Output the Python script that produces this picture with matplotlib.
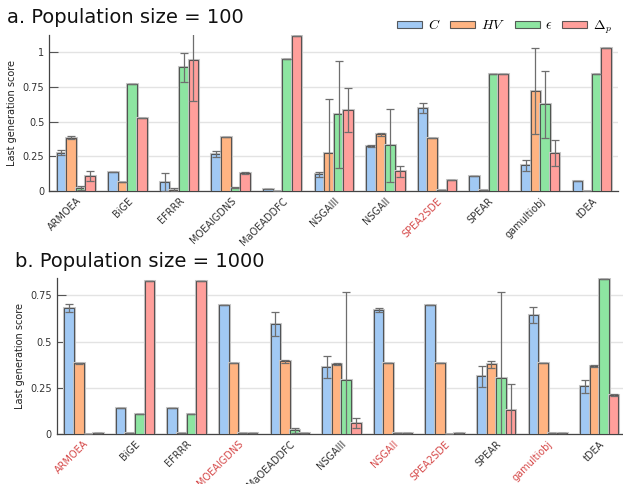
import matplotlib
matplotlib.use("Agg")
import matplotlib.pyplot as plt
import matplotlib.patheffects as pe
from matplotlib.patches import Patch
import numpy as np

plt.rcParams["mathtext.fontset"] = "cm"
plt.rcParams["font.family"] = ["DejaVu Sans"]

algorithms = ["ARMOEA", "BiGE", "EFRRR", "MOEAIGDNS", "MaOEADDFC", "NSGAIII",
              "NSGAII", "SPEA2SDE", "SPEAR", "gamultiobj", "tDEA"]
metrics = [r"$C$", r"$HV$", r"$\epsilon$", r"$\Delta_p$"]
colors = ["#a1c9f4", "#ffb482", "#8de5a1", "#ff9f9b"]

# Population size = 100: mean score and error half-width per metric
c_100 = [0.276, 0.139, 0.063, 0.269, 0.014, 0.120, 0.322, 0.596, 0.106, 0.185, 0.070]
c_100_err = [0.020, 0.0, 0.065, 0.022, 0.0, 0.020, 0.008, 0.035, 0.0, 0.040, 0.0]
hv_100 = [0.385, 0.067, 0.010, 0.389, 0.0, 0.274, 0.409, 0.382, 0.010, 0.723, 0.003]
hv_100_err = [0.012, 0.0, 0.010, 0.003, 0.0, 0.386, 0.010, 0.0, 0.0, 0.310, 0.0]
eps_100 = [0.024, 0.771, 0.892, 0.024, 0.952, 0.553, 0.329, 0.005, 0.841, 0.625, 0.841]
eps_100_err = [0.015, 0.0, 0.105, 0.005, 0.0, 0.385, 0.262, 0.0, 0.0, 0.240, 0.0]
dp_100 = [0.108, 0.524, 0.947, 0.132, 1.120, 0.582, 0.142, 0.077, 0.841, 0.274, 1.033]
dp_100_err = [0.035, 0.0, 0.295, 0.006, 0.0, 0.160, 0.040, 0.0, 0.0, 0.097, 0.0]

# Population size = 1000
c_1000 = [0.680, 0.139, 0.139, 0.698, 0.593, 0.361, 0.672, 0.699, 0.312, 0.645, 0.258]
c_1000_err = [0.022, 0.0, 0.0, 0.0, 0.065, 0.060, 0.011, 0.0, 0.058, 0.042, 0.036]
hv_1000 = [0.382, 0.007, 0.007, 0.382, 0.393, 0.379, 0.382, 0.382, 0.377, 0.382, 0.368]
hv_1000_err = [0.002, 0.0, 0.0, 0.0, 0.010, 0.005, 0.0, 0.0, 0.018, 0.0, 0.003]
eps_1000 = [0.0, 0.106, 0.106, 0.004, 0.020, 0.290, 0.004, 0.0, 0.303, 0.007, 0.840]
eps_1000_err = [0.0, 0.0, 0.0, 0.0, 0.015, 0.476, 0.0, 0.0, 0.465, 0.0, 0.0]
dp_1000 = [0.007, 0.829, 0.829, 0.007, 0.005, 0.061, 0.007, 0.007, 0.130, 0.007, 0.211]
dp_1000_err = [0.0, 0.0, 0.0, 0.0, 0.0, 0.026, 0.0, 0.0, 0.139, 0.0, 0.003]

highlight_100 = ["SPEA2SDE"]
highlight_1000 = ["ARMOEA", "MOEAIGDNS", "NSGAII", "SPEA2SDE", "gamultiobj"]

yticks_100 = [0, 0.25, 0.5, 0.75, 1]
yticks_1000 = [0, 0.25, 0.5, 0.75]
ytick_labels_100 = ["0", "0.25", "0.5", "0.75", "1"]
ytick_labels_1000 = ["0", "0.25", "0.5", "0.75"]

fig = plt.figure(figsize=(6.23, 4.84), dpi=100)
ax_a = fig.add_axes([0.0791, 0.6054, 0.913, 0.3223])
ax_b = fig.add_axes([0.0910, 0.1033, 0.909, 0.3223])

width = 0.186
x = np.arange(len(algorithms))
halo = [pe.Stroke(linewidth=2.2, foreground="#c8c8c8"), pe.Normal()]


def draw_panel(ax, series, errors, ymax, yticks, ylabels, highlight):
    for i, (vals, errs) in enumerate(zip(series, errors)):
        pos = x + (i - 1.5) * width
        bars = ax.bar(pos, vals, width=width, color=colors[i],
                      edgecolor=(0.25, 0.25, 0.25, 0.85), linewidth=0.8,
                      zorder=3, label=metrics[i])
        for b in bars:
            b.set_path_effects(halo)
        _, caps, lines = ax.errorbar(pos, vals, yerr=errs, fmt="none",
                                     ecolor="#6e6e6e", elinewidth=0.9,
                                     capsize=2.6, capthick=0.9, zorder=4)
        for cp in caps:
            cp.set_color("#2f2f2f")
    ax.set_xlim(-0.515, 10.51)
    ax.set_ylim(0, ymax)
    ax.set_yticks(yticks)
    ax.set_yticklabels(ylabels)
    ax.set_xticks(x)
    ax.set_xticklabels(algorithms, rotation=45, ha="right", va="top",
                       rotation_mode="anchor")
    for lbl in ax.get_xticklabels():
        lbl.set_color("#d64a4a" if lbl.get_text() in highlight else "#333333")
    ax.tick_params(axis="x", length=0, pad=3.5, labelsize=7)
    ax.tick_params(axis="y", direction="in", length=6.5, width=0.8,
                   color="#555555", pad=3.5, labelsize=7, labelcolor="#333333")
    ax.grid(axis="y", color="#e3e3e3", linewidth=1.0, zorder=0)
    ax.set_axisbelow(True)
    for s in ("top", "right"):
        ax.spines[s].set_visible(False)
    for s in ("left", "bottom"):
        ax.spines[s].set_color("#444444")
        ax.spines[s].set_linewidth(0.9)
    ax.set_ylabel("Last generation score", fontsize=7, color="#222222")
    ax.yaxis.set_label_coords(-0.056, 0.5)


draw_panel(ax_a, [c_100, hv_100, eps_100, dp_100],
           [c_100_err, hv_100_err, eps_100_err, dp_100_err],
           1.125, yticks_100, ytick_labels_100, highlight_100)
draw_panel(ax_b, [c_1000, hv_1000, eps_1000, dp_1000],
           [c_1000_err, hv_1000_err, eps_1000_err, dp_1000_err],
           0.844, yticks_1000, ytick_labels_1000, highlight_1000)
ax_b.set_xlim(-0.52, 10.46)

fig.text(0.012, 0.953, "a. Population size = 100", fontsize=14,
         va="baseline", ha="left", color="#111111")
fig.text(0.024, 0.449, "b. Population size = 1000", fontsize=14,
         va="baseline", ha="left", color="#111111")

handles = [Patch(facecolor=colors[i], edgecolor=(0.25, 0.25, 0.25, 0.85),
                 linewidth=0.8, label=metrics[i]) for i in range(4)]
fig.legend(handles=handles, loc="center right", bbox_to_anchor=(0.995, 0.944),
           ncol=4, frameon=False, fontsize=10, handlelength=1.8,
           handleheight=0.42, handletextpad=0.4, columnspacing=0.7,
           borderaxespad=0.2)

fig.savefig("out.png", dpi=100)
